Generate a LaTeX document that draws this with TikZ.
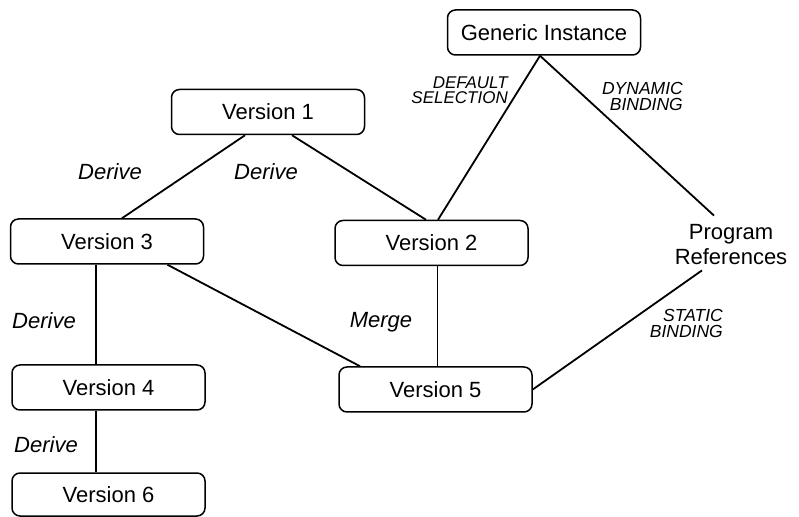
\documentclass[tikz,border=0pt]{standalone}
\usepackage{fontspec}
\setmainfont{Liberation Sans}
\begin{document}
\begin{tikzpicture}[x=1pt,y=1pt,
  verbox/.style={draw, line width=1.5pt, rounded corners=8pt, minimum width=193pt,
    minimum height=45pt, inner sep=0pt, font=\fontsize{22}{26}\selectfont},
  link/.style={line width=1.8pt},
  rel/.style={font=\fontsize{22}{26}\selectfont\itshape, inner sep=0pt},
  bind/.style={font=\fontsize{17.5}{16}\selectfont\itshape, align=right, inner sep=0pt, anchor=east}]
  \useasboundingbox (0,0) rectangle (799,516);

  % version boxes
  \node[verbox] (gi) at (544,483.5) {Generic Instance};
  \node[verbox] (v1) at (268,404) {Version 1};
  \node[verbox] (v3) at (107,274.5) {Version 3};
  \node[verbox] (v2) at (431.5,273) {Version 2};
  \node[verbox] (v4) at (108.5,128.5) {Version 4};
  \node[verbox, minimum height=43pt] (v6) at (108.5,21.5) {Version 6};
  \node[verbox] (v5) at (435.5,126.5) {Version 5};
  \node[align=center, inner sep=0pt, font=\fontsize{22}{25}\selectfont] (pr) at (731,271) {Program\\References};

  % derivation and merge edges
  \draw[link] ([xshift=-23pt]v1.south) -- ([xshift=15pt]v3.north);
  \draw[link] ([xshift=24pt]v1.south) -- ([xshift=-5.5pt]v2.north);
  \draw[link] ([xshift=-11pt]v3.south) -- ([xshift=-12.5pt]v4.north);
  \draw[link] ([xshift=-12.5pt]v4.south) -- ([xshift=-12.5pt]v6.north);
  \draw[link] ([xshift=60.5pt]v3.south) -- ([xshift=-75.5pt]v5.north);
  \draw[link] ([xshift=6pt]v2.south) -- ([xshift=2pt]v5.north);

  % binding edges
  \draw[link] ([xshift=-4pt]gi.south) -- ([xshift=6.5pt]v2.north);
  \draw[link] ([xshift=-4pt]gi.south) -- ([shift={(-17pt,9pt)}]pr.north);
  \draw[link] (v5.east) -- ([shift={(-29pt,-5pt)}]pr.south);

  % edge labels
  \node[rel] (d1) at (110,344) {Derive};
  \node[rel] (d2) at (266,344) {Derive};
  \node[rel] (d3) at (44,195) {Derive};
  \node[rel] (d4) at (46,71) {Derive};
  \node[rel] (mg) at (381,194) {Merge};
  \node[bind, font=\fontsize{17}{15}\selectfont\itshape] (ds) at (508,425.5) {DEFAULT\\SELECTION};
  \node[bind] (db) at (683,419.5) {DYNAMIC\\BINDING};
  \node[bind] (sb) at (723,193) {STATIC\\BINDING};
\end{tikzpicture}
\end{document}
